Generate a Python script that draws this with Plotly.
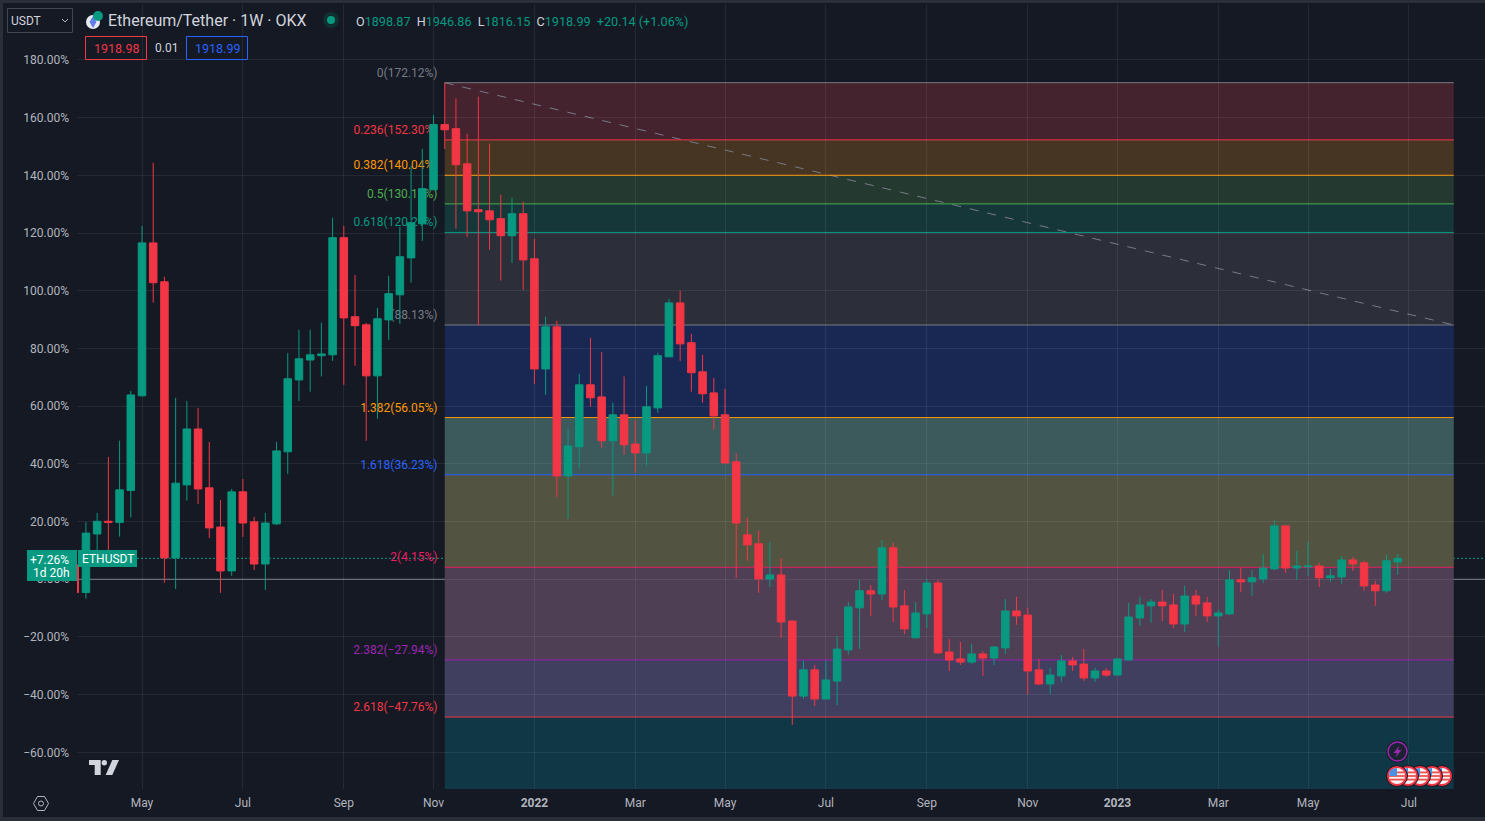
import pandas as pd
import plotly.graph_objects as go

# Weekly ETH/USDT candles, in percent from the base price
first_week = "2021-03-22"
opens = [
    5, -4.6, 15.7, 20.1, 19.7, 30.8, 63.6, 116.6, 103.1, 7.4, 32.7, 52.1, 31.7, 18.1, 2.9, 30.3, 19.9, 5.3, 19.2, 44.2,
    69.1, 76, 77.5, 77.8, 118.4, 91, 88.2, 70.5, 89.9, 98.6, 111.4, 123.2, 135, 157.6, 156.2, 144, 128.1, 127.7, 125, 119.1, 126.7,
    111.1, 72.9, 87.5, 35.8, 45.9, 67.4, 63.2, 48, 57, 46.9, 43.8, 59.4, 77.1, 95.8, 82, 71.9, 64.6, 57, 40.7, 15.4,
    12.3, 0.1, 1.5, -14.5, -40.5, -31.4, -41.5, -35.3, -24.5, -9.9, -4, -5.1, 10.9, -9.2, -20.3, -12, -1.3, -25.2, -27.6, -28.7,
    -25.9, -27.3, -23.8, -11, -12.4, -31.4, -36.3, -33.5, -28.3, -29.4, -34.2, -31.8,
    -33.2, -28, -13.4, -9.2, -7.9, -8.9, -15.5, -5.8, -8.2, -12.7, -12, -0.2, -0.9, 0.1, 3.6, 18.5, 3.9, 4.3, 4.6, 0.5,
    0.8, 6.7, 5.7, -2, -4, 6,
]
highs = [
    6, 19.8, 23.0, 42.4, 48, 65.3, 122.5, 144.4, 104.9, 62.9, 61.8, 59.4, 47.6, 27.5, 31.3, 34.8, 21.6, 23, 47.6, 78.4,
    86.5, 86.5, 88.9, 125.3, 122.5, 105.5, 88.9, 94.1, 105.2, 122.2, 143.3, 149.2, 161, 172.12, 166.6, 154.4, 167.3, 151, 133.3, 132.2, 130.9,
    118, 91, 89.6, 52.1, 71.2, 83.7, 78.8, 61.2, 70.3, 55.3, 67, 78.5, 97.2, 100, 85.1, 77.8, 69.8, 66, 43.8, 21.3,
    16.8, 12.9, 7.4, -14.1, -28.3, -29.7, -28.3, -19.7, -7.9, -0.2, -2, 13.6, 12.6, -3.7, -7.9, 0.1, -0.2, -20.7, -21.7, -22.4,
    -24.9, -23.1, -6.8, -6.1, -9.9, -27.6, -30.7, -26.2, -26.9, -24.2, -30.7, -30.7,
    -27.3, -8.2, -6.1, -6.8, -3.7, -5.1, -2.3, -3.7, -6.1, -10.6, 3.2, 3.9, 3.2, 8.8, 20.6, 18.8, 9.8, 12.9, 5.7, 3.6,
    8.1, 7.7, 6.4, -0.6, 8.4, 8.8,
]
lows = [
    -4.6, -6.7, 9.6, 9, 14.8, 21.4, 63.3, 95.9, -1.2, -3.4, 27.3, 26.1, 14.3, -4.7, 1.2, 14.7, 3.2, -3.7, 18.8, 36.5,
    61.8, 65, 70.3, 75.7, 67.4, 74, 48, 55.6, 83, 88.5, 102.8, 117.3, 135, 149.2, 121.5, 118.7, 88.1, 114.2, 103.5, 109.7, 100.3,
    67.7, 63.9, 28.5, 20.9, 38.6, 59.8, 45.5, 28.9, 43.1, 36.9, 39.3, 57.7, 77.1, 75.7, 65, 61.2, 51.8, 40.3, 0.5, 6.4,
    -4.7, -2.7, -20.3, -50.5, -41.5, -43.9, -41.5, -43.6, -26.2, -24.2, -12.7, -7.2, -14.8, -19, -20.3, -16.9, -25.9, -31.8, -29.7, -29.4,
    -33.5, -29.7, -25.9, -15.8, -39.8, -36.6, -39.8, -35.6, -31.8, -35.3, -35.6, -33.9,
    -33.2, -28, -16.2, -15.1, -14.5, -16.9, -18.3, -12.7, -14.8, -23.5, -12.4, -4.4, -5.8, -1.3, 3.2, 2.2, -0.2, 1.2, -2.7, -0.9,
    -1.6, 2.9, -4, -9.2, -4.7, 1.5,
]
closes = [
    -4.6, 16.0, 20.1, 19.7, 31.0, 63.9, 116.6, 102.8, 7.4, 33.3, 52.1, 31.3, 17.8, 2.9, 30.3, 19.5, 5.3, 19.5, 44.5, 69.5,
    76.4, 77.8, 78.1, 118.4, 90.6, 87.9, 70.5, 90.3, 99, 111.8, 123.6, 135.4, 157.6, 155.8, 143.7, 127.7, 127.4, 124.6, 119.1, 126.7, 110.7,
    72.9, 87.5, 35.8, 46.2, 67.4, 62.9, 48, 57, 46.6, 43.8, 59.8, 77.5, 95.8, 81.6, 71.6, 64.3, 56.6, 40.3, 19.5, 11.9,
    0.1, 1.5, -14.8, -40.5, -31.4, -41.5, -34.9, -24.2, -9.6, -4, -5.1, 10.9, -9.6, -17.2, -11.7, -1.3, -25.5, -28, -28.7, -25.9,
    -27.3, -23.5, -11, -12.7, -31.8, -36.3, -33.2, -28.3, -29.7, -34.2, -31.8, -33.2,
    -27.6, -13.1, -8.9, -7.9, -9.2, -15.5, -5.8, -8.6, -12.7, -11.7, -0.2, -0.9, 0.5, 3.9, 18.5, 3.9, 4.6, 4.6, 0.5, 1.2,
    6.7, 5.3, -2.3, -4, 6.4, 7.26,
]
weeks = pd.date_range(first_week, periods=len(opens), freq="7D")

# Fibonacci tool
fib_start = "2021-11-08"
fib_end = "2023-07-31"
fib_label_date = "2021-11-03 12:00"
fib_ratios = ["0", "0.236", "0.382", "0.5", "0.618", "1", "1.382", "1.618", "2", "2.382", "2.618"]
fib_levels = [172.12, 152.30, 140.04, 130.12, 120.21, 88.13, 56.05, 36.23, 4.15, -27.94, -47.76]
fib_line_colors = ["#787b86", "#f23645", "#ff9800", "#4caf50", "#089981", "#787b86",
                   "#ff9800", "#2962ff", "#e91e63", "#9c27b0", "#f23645"]
fib_band_colors = ["#44222e", "#463522", "#24392f", "#15373a", "#2c2f39", "#192853",
                   "#3c595c", "#535342", "#4f3f55", "#413f60", "#0f3745"]

y_ticks = [180, 160, 140, 120, 100, 80, 60, 40, 20, 0, -20, -40, -60]
y_tick_text = ["180.00%", "160.00%", "140.00%", "120.00%", "100.00%", "80.00%", "60.00%", "40.00%", "20.00%", "0.00%",
               "\u221220.00%", "\u221240.00%", "\u221260.00%"]
x_ticks = ["2021-05-03", "2021-07-05", "2021-09-06", "2021-11-01", "2022-01-03", "2022-03-07", "2022-05-02",
           "2022-07-04", "2022-09-05", "2022-11-07", "2023-01-02", "2023-03-06", "2023-05-01", "2023-07-03"]
x_tick_text = ["May", "Jul", "Sep", "Nov", "<b>2022</b>", "Mar", "May", "Jul", "Sep", "Nov", "<b>2023</b>", "Mar", "May", "Jul"]
last_change = 7.26

BG = "#151924"
FRAME = "#2a2e39"
UP = "#089981"
DOWN = "#f23645"
TEXT = "#b2b5be"
FONT = "Roboto"
W, H = 1485, 821
PLOT_L, PLOT_T, PLOT_B = 77, 4, 789


# pixel position to paper fraction
def px(x):
    return (x - PLOT_L) / (W - PLOT_L)


def py(y):
    return (PLOT_B - y) / (PLOT_B - PLOT_T)


def rect(x0, y0, x1, y1, fill="rgba(0,0,0,0)", line=None, width=1, kind="rect"):
    return dict(type=kind, xref="paper", yref="paper", x0=px(x0), x1=px(x1), y0=py(y0), y1=py(y1),
                fillcolor=fill, line=dict(color=line or "rgba(0,0,0,0)", width=width if line else 0))


def circle(cx, cy, r, fill="rgba(0,0,0,0)", line=None, width=1):
    return rect(cx - r, cy - r, cx + r, cy + r, fill, line, width, kind="circle")


def poly(points, fill="rgba(0,0,0,0)", line=None, width=1):
    path = "M " + " L ".join(f"{px(x)} {py(y)}" for x, y in points) + " Z"
    return dict(type="path", xref="paper", yref="paper", path=path, fillcolor=fill,
                line=dict(color=line or "rgba(0,0,0,0)", width=width if line else 0))


def note(x, y, text, color=TEXT, size=12, anchor="left"):
    return dict(xref="paper", yref="paper", x=px(x), y=py(y), text=text, showarrow=False, xanchor=anchor, yanchor="middle",
                font=dict(family=FONT, size=size, color=color), borderpad=0, borderwidth=0)


shapes = []
# Fib bands, the last one runs on to the bottom of the chart
band_edges = fib_levels + [-72.7]
for i, color in enumerate(fib_band_colors):
    shapes.append(dict(type="rect", layer="below", xref="x", yref="y", x0=fib_start, x1=fib_end,
                       y0=band_edges[i + 1], y1=band_edges[i], fillcolor=color, line=dict(width=0)))
# Zero line and last price line
shapes.append(dict(type="line", layer="below", xref="paper", yref="y", x0=0, x1=1, y0=0, y1=0,
                   line=dict(color="#787b86", width=1)))
shapes.append(dict(type="line", layer="below", xref="x", yref="y", x0=fib_start, x1=fib_end, y0=fib_levels[0], y1=fib_levels[5],
                   line=dict(color="#787b86", width=1, dash="dash")))
for ratio, level, color in zip(fib_ratios, fib_levels, fib_line_colors):
    shapes.append(dict(type="line", layer="below", xref="x", yref="y", x0=fib_start, x1=fib_end, y0=level, y1=level,
                       line=dict(color=color, width=1)))
    # label sits under the candles, so it goes on a shape and not an annotation
    shapes.append(dict(type="line", layer="below", xref="x", yref="y", x0=fib_label_date, x1=fib_start, y0=level, y1=level,
                       line=dict(width=0),
                       label=dict(text=f"{ratio}({level:.2f}%)".replace("-", "\u2212"), textposition="start", xanchor="right", yanchor="bottom",
                                  padding=4, font=dict(family=FONT, size=12, color=color))))
shapes.append(dict(type="line", layer="below", xref="paper", yref="y", x0=px(137), x1=1, y0=last_change, y1=last_change,
                   line=dict(color=UP, width=1, dash="2px,2px")))

# Frame
shapes += [rect(0, 0, W, 3, FRAME), rect(0, 0, 3, H, FRAME), rect(0, 817, W, H, FRAME)]

# Header boxes
shapes += [
    rect(7.5, 8.5, 72.5, 32.5, line="#434651"),
    rect(85.5, 36.5, 146.5, 59.5, line=DOWN),
    rect(186.5, 36.5, 247.5, 59.5, line="#2962ff"),
    poly([(62, 19), (65, 22), (68, 19), (65, 22)], line=TEXT),
    circle(93, 22, 7, "#e8eaf0"),
    poly([(93, 16), (96.5, 22), (93, 28), (89.5, 22)], "#627eea"),
    circle(98, 16, 5, UP),
    circle(331, 20, 8, "#10302f"),
    circle(331, 20, 4, UP),
]

# Price label on the axis
shapes += [rect(27, 550, 77, 581, UP), rect(78, 550, 137, 567, UP)]

# TradingView logo
shapes += [
    poly([(89, 760), (100.7, 760), (100.7, 775), (94.7, 775), (94.7, 765), (89, 765)], "#d1d4dc"),
    circle(104.3, 762.7, 2.7, "#d1d4dc"),
    poly([(112.3, 760), (119, 760), (112.3, 775), (105.7, 775)], "#d1d4dc"),
]
# Settings gear
shapes += [
    poly([(33.5, 803.5), (37.5, 796.5), (44.5, 796.5), (48.5, 803.5), (44.5, 810.5), (37.5, 810.5)], line=TEXT),
    circle(41, 803.5, 2.5, line=TEXT),
]

# Event markers, drawn right to left so the leftmost stays on top
for cx in [1442, 1432, 1420, 1408, 1397]:
    shapes.append(circle(cx, 776, 10.5, "#f23645", "#141823", 1))
    shapes.append(circle(cx, 776, 8, "#f4f4f4"))
    for dy, half in [(-3.6, 7.1), (0, 8), (3.6, 7.1)]:
        shapes.append(rect(cx - half, 776 + dy - 0.9, cx + half, 776 + dy + 0.9, "#ef5350"))
    shapes.append(poly([(cx - 7, 772), (cx, 772), (cx, 768), (cx - 3, 768.6), (cx - 6, 770)], "#4a90e2"))
    shapes.append(rect(cx - 7.6, 771, cx, 776, "#4a90e2"))
shapes.append(circle(1397.5, 751.5, 11, "#141823"))
shapes.append(circle(1397.5, 751.5, 9.5, "#1b2333", "#9c27b0", 1.5))
shapes.append(poly([(1399.5, 745.5), (1393.5, 753), (1397, 753), (1395.5, 757.5), (1401.5, 750), (1398, 750)], "#9c27b0"))

header_ohlc = (
    "<span style='color:#d1d4dc'>O</span>1898.87 <span style='color:#d1d4dc'> H</span>1946.86 "
    "<span style='color:#d1d4dc'> L</span>1816.15 <span style='color:#d1d4dc'> C</span>1918.99 \u00a0+20.14 (+1.06%)"
)
annotations = [
    note(11, 21, "USDT", "#d1d4dc", 12),
    note(108, 21, "Ethereum/Tether \u00b7 1W \u00b7 OKX", "#d1d4dc", 16),
    note(356, 22, header_ohlc, UP, 12.6),
    note(116, 49, "1918.98", DOWN, 12.5, "center"),
    note(166, 48.5, "0.01", "#d1d4dc", 12, "center"),
    note(217, 49, "1918.99", "#2962ff", 12.5, "center"),
    note(49.5, 559.5, "+7.26%", "#ffffff", 12, "center"),
    note(51, 573, "1d 20h", "#ffffff", 12, "center"),
    note(107.5, 559, "ETHUSDT", "#ffffff", 12, "center"),
]

candles = go.Candlestick(
    x=weeks, open=opens, high=highs, low=lows, close=closes,
    increasing=dict(line=dict(color=UP, width=1), fillcolor=UP),
    decreasing=dict(line=dict(color=DOWN, width=1), fillcolor=DOWN),
    whiskerwidth=0,
    showlegend=False,
)

fig = go.Figure(data=[candles])
fig.update_layout(
    width=W, height=H,
    margin=dict(l=PLOT_L, r=0, t=PLOT_T, b=H - PLOT_B, autoexpand=False),
    paper_bgcolor=BG, plot_bgcolor=BG,
    font=dict(family=FONT, size=12, color=TEXT),
    showlegend=False,
    boxgap=0.04,
    shapes=shapes,
    annotations=annotations,
    xaxis=dict(
        type="date", rangeslider=dict(visible=False),
        range=["2021-03-23 10:00", "2023-08-19 12:00"],
        tickmode="array", tickvals=x_ticks, ticktext=x_tick_text, tickangle=0,
        showgrid=True, gridcolor="rgba(255,255,255,0.07)", gridwidth=1, zeroline=False, showline=False,
        ticks="", ticklabelstandoff=5, tickfont=dict(family=FONT, size=12, color=TEXT),
    ),
    yaxis=dict(
        range=[-72.7, 199.4],
        tickmode="array", tickvals=y_ticks, ticktext=y_tick_text,
        showgrid=True, gridcolor="rgba(255,255,255,0.07)", gridwidth=1, zeroline=False, showline=False,
        ticks="", ticklabelstandoff=7, tickfont=dict(family=FONT, size=12, color=TEXT),
    ),
)

fig.write_html("out.html", config=dict(displayModeBar=False), post_script="document.body.style.margin='0';")
